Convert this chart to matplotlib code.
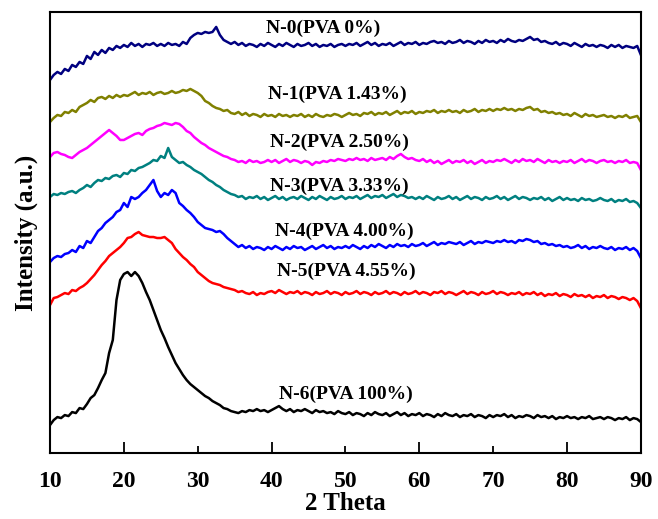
import numpy as np
import matplotlib
matplotlib.use("Agg")
import matplotlib.pyplot as plt
from matplotlib.ticker import FixedLocator, FixedFormatter

# 2 theta grid, 0.5 deg steps
two_theta = np.arange(10, 90.01, 0.5)

# intensities (a.u., already stacked)
n0 = [373, 378, 381, 379, 384, 382, 388, 386, 391, 389,
      397, 394, 401, 398, 403, 400, 405, 403, 407, 405,
      408, 406, 410, 407, 409, 406, 409, 408, 410, 407,
      409, 407, 410, 408, 409, 407, 411, 409, 415, 418,
      420, 419, 421, 420, 421, 426, 418, 413, 411, 409,
      411, 408, 410, 407, 409, 408, 406, 409, 407, 410,
      408, 406, 409, 407, 410, 408, 406, 409, 407, 408,
      410, 407, 409, 406, 408, 407, 409, 406, 408, 409,
      407, 409, 408, 410, 407, 409, 411, 408, 410, 407,
      409, 408, 410, 407, 409, 411, 408, 410, 409, 411,
      408, 410, 409, 411, 412, 410, 411, 409, 412, 410,
      411, 413, 410, 412, 411, 409, 412, 410, 413, 411,
      412, 410, 413, 411, 414, 412, 411, 413, 412, 414,
      416, 413, 414, 411, 412, 410, 409, 411, 408, 410,
      409, 407, 410, 408, 406, 409, 407, 408, 406, 408,
      407, 405, 408, 406, 408, 405, 407, 406, 405, 407,
      398]
n1 = [331, 335, 338, 337, 341, 340, 343, 341, 346, 348,
      350, 353, 351, 355, 356, 354, 357, 355, 358, 356,
      358, 357, 359, 361, 358, 360, 359, 361, 358, 360,
      361, 359, 360, 362, 360, 361, 363, 362, 364, 362,
      360, 357, 352, 350, 347, 345, 344, 342, 343, 340,
      339, 341, 338, 340, 337, 339, 338, 336, 339, 337,
      338, 336, 339, 337, 338, 336, 338, 337, 339, 336,
      338, 336, 339, 337, 336, 338, 337, 339, 338, 336,
      338, 340, 338, 339, 337, 340, 339, 341, 338, 340,
      339, 341, 338, 340, 342, 339, 341, 340, 342, 339,
      341, 340, 342, 341, 343, 340, 342, 341, 343, 341,
      342, 340, 343, 341, 342, 344, 341, 343, 342, 344,
      342, 344, 343, 345, 343, 344, 342, 344, 343, 345,
      346, 343, 344, 341, 342, 340, 341, 339, 340, 338,
      339, 337, 340, 338, 336, 339, 337, 338, 336, 337,
      338, 336, 337, 335, 337, 336, 338, 335, 336, 337,
      331]
n2 = [296, 300, 301, 299, 298, 296, 295, 298, 301, 303,
      305, 308, 311, 314, 317, 320, 323, 320, 317, 313,
      313, 315, 317, 319, 320, 318, 322, 324, 325, 327,
      328, 330, 329, 328, 330, 329, 326, 322, 320, 316,
      313, 310, 308, 305, 303, 301, 299, 297, 296, 294,
      293, 291, 292, 290, 293, 291, 292, 290, 291, 293,
      291, 293, 290, 292, 294, 291, 293, 292, 290, 292,
      291, 288, 291, 290, 292, 291, 293, 292, 294, 293,
      292, 294, 293, 295, 293, 294, 292, 295, 293, 294,
      295, 293, 296, 294, 297, 299, 296, 294, 295, 293,
      292, 294, 291, 293, 290, 292, 289, 291, 293, 290,
      292, 291, 293, 290, 292, 289, 291, 293, 290, 292,
      291, 293, 292, 294, 292, 290, 293, 291, 294, 292,
      293, 291, 294, 292, 290, 293, 291, 292, 290, 292,
      291, 293, 290, 292, 294, 291, 293, 292, 290, 292,
      293, 291, 292, 290, 292, 291, 293, 290, 291, 290,
      283]
n3 = [256, 259, 258, 260, 259, 261, 262, 260, 263, 265,
      268, 266, 270, 273, 272, 275, 274, 277, 278, 276,
      280, 279, 283, 282, 285, 286, 288, 290, 293, 292,
      297, 295, 305, 296, 293, 290, 291, 288, 286, 283,
      281, 279, 276, 273, 271, 268, 266, 263, 261, 259,
      258, 256, 257, 254, 256, 255, 257, 254, 256, 253,
      255, 257, 254, 256, 253, 255, 256, 254, 257, 255,
      253, 256, 254, 257, 255, 253, 256, 254, 255, 257,
      254, 256, 255, 257, 254, 256, 258, 255, 257, 256,
      258, 255, 257, 259, 256, 258, 257, 255, 256, 254,
      256, 254, 257, 255, 253, 256, 254, 255, 257, 254,
      256, 253, 255, 257, 254, 256, 255, 253, 256, 254,
      255, 257, 254, 256, 253, 255, 257, 254, 256, 255,
      253, 255, 254, 256, 253, 255, 252, 254, 256, 253,
      255, 253, 254, 252, 255, 253, 254, 252, 253, 255,
      253, 252, 254, 251, 253, 252, 254, 251, 252, 250,
      245]
n4 = [191, 195, 197, 196, 199, 200, 203, 201, 207, 205,
      212, 210, 216, 222, 225, 230, 233, 236, 241, 243,
      250, 246, 256, 254, 256, 260, 263, 268, 273, 262,
      256, 260, 258, 263, 260, 250, 247, 243, 240, 236,
      231, 228, 225, 224, 223, 221, 222, 219, 215, 212,
      209, 206, 208, 205, 207, 204, 206, 205, 203, 206,
      204, 207, 205, 203, 206, 204, 207, 205, 206, 203,
      205, 207, 204, 206, 208, 205, 207, 204, 206, 205,
      207, 205, 208, 206, 204, 207, 205, 208, 206, 209,
      207, 205, 208, 206, 209, 207, 208, 206, 209, 207,
      208, 210, 207, 209, 211, 208, 210, 209, 211, 210,
      209, 211, 208, 210, 212, 209, 211, 210, 212, 211,
      210, 212, 211, 213, 211, 212, 210, 213, 212, 214,
      213, 211, 212, 209, 210, 208, 209, 207, 208, 206,
      207, 205, 206, 208, 205, 207, 204, 206, 205, 207,
      205, 204, 206, 203, 205, 204, 206, 203, 205, 202,
      195]
n5 = [148, 155, 156, 158, 160, 159, 163, 162, 165, 167,
      170, 174, 178, 183, 188, 192, 197, 200, 203, 206,
      210, 215, 216, 219, 221, 218, 217, 216, 216, 215,
      215, 216, 213, 210, 204, 200, 196, 193, 189, 186,
      181, 178, 175, 172, 170, 169, 168, 166, 165, 164,
      163, 161, 162, 160, 159, 161, 158, 160, 159, 161,
      162, 160, 163, 161, 159, 161, 160, 162, 159, 161,
      160, 158, 161, 159, 160, 162, 159, 161, 160, 158,
      161, 159, 160, 162, 159, 161, 160, 158, 161, 159,
      160, 162, 159, 161, 160, 158, 161, 159, 160, 162,
      159, 161, 160, 158, 161, 160, 162, 159, 161, 160,
      158, 160, 162, 159, 161, 160, 158, 161, 159, 160,
      162, 159, 161, 160, 158, 160, 159, 161, 158, 160,
      159, 161, 158, 160, 157, 159, 158, 160, 157, 159,
      158, 156, 159, 157, 158, 156, 158, 155, 157, 156,
      158, 155, 157, 156, 154, 156, 155, 153, 155, 152,
      145]
n6 = [28, 33, 36, 35, 38, 37, 41, 40, 45, 44,
      49, 55, 58, 65, 73, 80, 100, 113, 153, 173,
      179, 181, 177, 181, 177, 170, 161, 153, 143, 133,
      123, 115, 106, 98, 90, 84, 78, 73, 69, 66,
      63, 60, 57, 55, 52, 50, 48, 45, 44, 42,
      41, 40, 42, 41, 43, 42, 44, 42, 43, 41,
      43, 45, 47, 44, 42, 44, 41, 43, 42, 44,
      42, 40, 43, 41, 42, 40, 41, 39, 42, 40,
      39, 41, 38, 40, 39, 37, 40, 38, 41, 39,
      38, 40, 37, 39, 41, 38, 40, 37, 39, 38,
      40, 37, 39, 38, 36, 39, 37, 40, 38, 37,
      39, 36, 38, 37, 39, 36, 38, 37, 35, 38,
      36, 38, 37, 39, 36, 38, 35, 37, 36, 38,
      37, 35, 38, 36, 37, 35, 37, 34, 36, 35,
      37, 35, 36, 34, 36, 35, 37, 34, 35, 36,
      34, 36, 35, 33, 35, 34, 36, 33, 35, 34,
      31]

series = [n0, n1, n2, n3, n4, n5, n6]
labels = ["N-0(PVA 0%)", "N-1(PVA 1.43%)", "N-2(PVA 2.50%)", "N-3(PVA 3.33%)",
          "N-4(PVA 4.00%)", "N-5(PVA 4.55%)", "N-6(PVA 100%)"]
colors = ["#000080", "#808000", "#ff00ff", "#008080", "#0000ff", "#ff0000", "#000000"]
# where each label sits (2theta of left edge, height)
label_x = [39.2, 39.5, 39.8, 39.8, 40.5, 40.8, 41.0]
label_y = [425, 359, 311, 267, 222, 182, 59]

plt.rcParams['font.family'] = ['Liberation Serif', 'DejaVu Serif']
plt.rcParams['font.weight'] = 'bold'

fig = plt.figure(figsize=(6.58, 5.19), dpi=100)
ax = fig.add_axes([0.076, 0.127, 0.898, 0.850])

for y, c in zip(series, colors):
	ax.plot(two_theta, y, color=c, lw=1.8)

for lab, lx, ly in zip(labels, label_x, label_y):
	ax.text(lx, ly, lab, fontsize=14, fontweight='bold', va='center', ha='left')

ax.set_xlim(10, 90)
ax.set_ylim(0, 441)
ax.set_yticks([])

ax.xaxis.set_major_locator(FixedLocator([20, 40, 60, 80]))
ax.xaxis.set_minor_locator(FixedLocator([10, 30, 50, 70, 90]))
ax.xaxis.set_minor_formatter(FixedFormatter(["10", "30", "50", "70", "90"]))
ax.tick_params(axis='x', which='major', direction='in', length=8, width=1.3, pad=13, labelsize=17)
ax.tick_params(axis='x', which='minor', direction='in', length=5, width=1.3, pad=13, labelsize=17)
for s in ax.spines.values():
	s.set_linewidth(1.5)

ax.set_xlabel("2 Theta", fontsize=18, fontweight='bold', labelpad=0)
ax.set_ylabel("Intensity (a.u.)", fontsize=18, fontweight='bold')
ax.yaxis.set_label_coords(-0.02, 0.5)

fig.savefig("out.png", dpi=100)
